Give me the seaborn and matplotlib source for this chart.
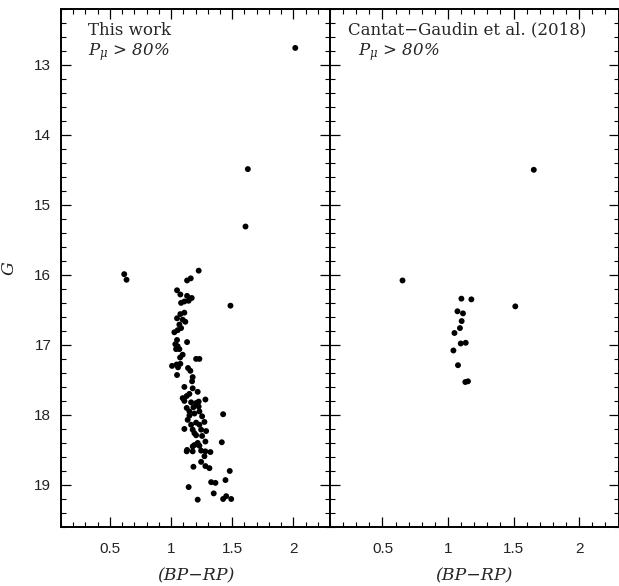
import matplotlib
matplotlib.use("Agg")
import numpy as np
import pandas as pd
import matplotlib.pyplot as plt
import seaborn as sns
from matplotlib.ticker import MultipleLocator, FixedLocator

# ---- data ----
# left panel: this work, P_mu > 80%
this_bp_rp = [
    2.016, 1.628, 1.609,
    0.617, 0.636, 1.226, 1.161, 1.131, 1.486, 1.049, 1.076, 1.131, 1.169,
    1.144, 1.109, 1.082, 1.109, 1.076, 1.049, 1.095, 1.117, 1.068, 1.082,
    1.054, 1.027, 1.049, 1.131, 1.035, 1.054, 1.041, 1.068, 1.095, 1.074,
    1.205, 1.232, 1.008, 1.046, 1.076, 1.057, 1.139, 1.158, 1.049, 1.177,
    1.172, 1.109, 1.177, 1.218, 1.150, 1.095, 1.128, 1.109, 1.281, 1.164,
    1.205, 1.128, 1.183, 1.226, 1.150, 1.191, 1.232, 1.426, 1.150, 1.254,
    1.205, 1.164, 1.232, 1.109, 1.177, 1.191, 1.246, 1.287, 1.254, 1.281,
    1.218, 1.177, 1.232, 1.415, 1.131, 1.128, 1.246, 1.281, 1.322, 1.273,
    1.246, 1.183, 1.281, 1.314, 1.480, 1.328, 1.363, 1.445, 1.144, 1.349,
    1.451, 1.426, 1.492, 1.218,
    1.226, 1.136, 1.273, 1.205, 1.191, 1.177,
]
this_g = [
    12.76, 14.49, 15.31,
    15.99, 16.07, 15.94, 16.05, 16.08, 16.44, 16.22, 16.28, 16.30, 16.33,
    16.37, 16.38, 16.40, 16.54, 16.56, 16.62, 16.64, 16.67, 16.71, 16.76,
    16.79, 16.82, 16.93, 16.96, 16.99, 17.02, 17.06, 17.06, 17.14, 17.18,
    17.20, 17.20, 17.30, 17.28, 17.27, 17.32, 17.33, 17.37, 17.43, 17.46,
    17.52, 17.60, 17.62, 17.67, 17.70, 17.76, 17.73, 17.80, 17.78, 17.82,
    17.83, 17.90, 17.89, 17.88, 17.95, 17.98, 17.95, 17.99, 18.01, 18.02,
    18.11, 18.14, 18.14, 18.20, 18.21, 18.26, 18.21, 18.23, 18.30, 18.38,
    18.40, 18.45, 18.44, 18.39, 18.50, 18.52, 18.51, 18.52, 18.53, 18.59,
    18.67, 18.74, 18.73, 18.76, 18.80, 18.96, 18.97, 18.93, 19.03, 19.12,
    19.16, 19.20, 19.20, 19.21,
    17.81, 18.07, 18.10, 18.29, 18.43, 18.52,
]

# right panel: Cantat-Gaudin et al. (2018), P_mu > 80%
cg_bp_rp = [1.654, 0.653, 1.102, 1.178, 1.513, 1.072, 1.114, 1.104,
            1.091, 1.049, 1.097, 1.135, 1.041, 1.076, 1.132, 1.152]
cg_g = [14.50, 16.08, 16.34, 16.35, 16.45, 16.52, 16.55, 16.66,
        16.76, 16.83, 16.98, 16.97, 17.08, 17.29, 17.53, 17.52]

x_ticks = [0.5, 1, 1.5, 2]
x_ticklabels = ["0.5", "1", "1.5", "2"]
y_ticks = [13, 14, 15, 16, 17, 18, 19]

panels = [
    ("This work", this_bp_rp, this_g),
    ("Cantat\u2212Gaudin et al. (2018)", cg_bp_rp, cg_g),
]

sns.set_theme(style="ticks")
plt.rcParams["font.family"] = ["Liberation Sans", "DejaVu Sans"]
plt.rcParams["mathtext.fontset"] = "dejavuserif"

W, H = 619, 586
fig = plt.figure(figsize=(W / 100, H / 100), dpi=100)
ax1 = fig.add_axes([61 / W, 59 / H, 269 / W, 518.3 / H])
ax2 = fig.add_axes([330 / W, 59 / H, 288.5 / W, 518.3 / H])

label_font = dict(family="DejaVu Serif", style="italic", size=12.5)

for i, (ax, (title, xs, ys)) in enumerate(zip([ax1, ax2], panels)):
    df = pd.DataFrame({"bp_rp": xs, "g": ys})
    sns.scatterplot(data=df, x="bp_rp", y="g", ax=ax, color="black",
                    s=18, linewidth=0, edgecolor="none")
    ax.set_xlim(0.1, 2.3)
    ax.set_ylim(19.6, 12.2)
    ax.xaxis.set_major_locator(FixedLocator(x_ticks))
    ax.set_xticklabels(x_ticklabels)
    ax.xaxis.set_minor_locator(MultipleLocator(0.1))
    ax.yaxis.set_major_locator(FixedLocator(y_ticks))
    ax.yaxis.set_minor_locator(MultipleLocator(0.2))
    ax.tick_params(which="both", direction="in", top=True, right=True,
                   colors="black", labelcolor="#222222", labelsize=11)
    ax.tick_params(which="major", length=7, width=0.9)
    ax.tick_params(which="minor", length=3.5, width=0.8)
    ax.tick_params(axis="x", pad=11)
    ax.tick_params(axis="y", pad=7)
    for sp in ax.spines.values():
        sp.set_linewidth(1.4)
        sp.set_color("black")
    ax.set_xlabel("(BP\u2212RP)", labelpad=8, **label_font)

    # panel annotation
    tx = 0.100 if i == 0 else 0.0635
    px = 0.100 if i == 0 else 0.098
    ax.text(tx, 0.950, title, transform=ax.transAxes, family="DejaVu Serif",
            size=12, va="baseline", ha="left")
    ax.text(px, 0.911, r"$P_{\mu}$ > 80%", transform=ax.transAxes,
            family="DejaVu Serif", style="italic", size=12,
            va="baseline", ha="left")

ax1.set_ylabel("G", labelpad=12, **label_font)
ax2.set_ylabel("")
ax2.tick_params(axis="y", labelleft=False)

fig.savefig("out.png", dpi=100)
plt.close(fig)
